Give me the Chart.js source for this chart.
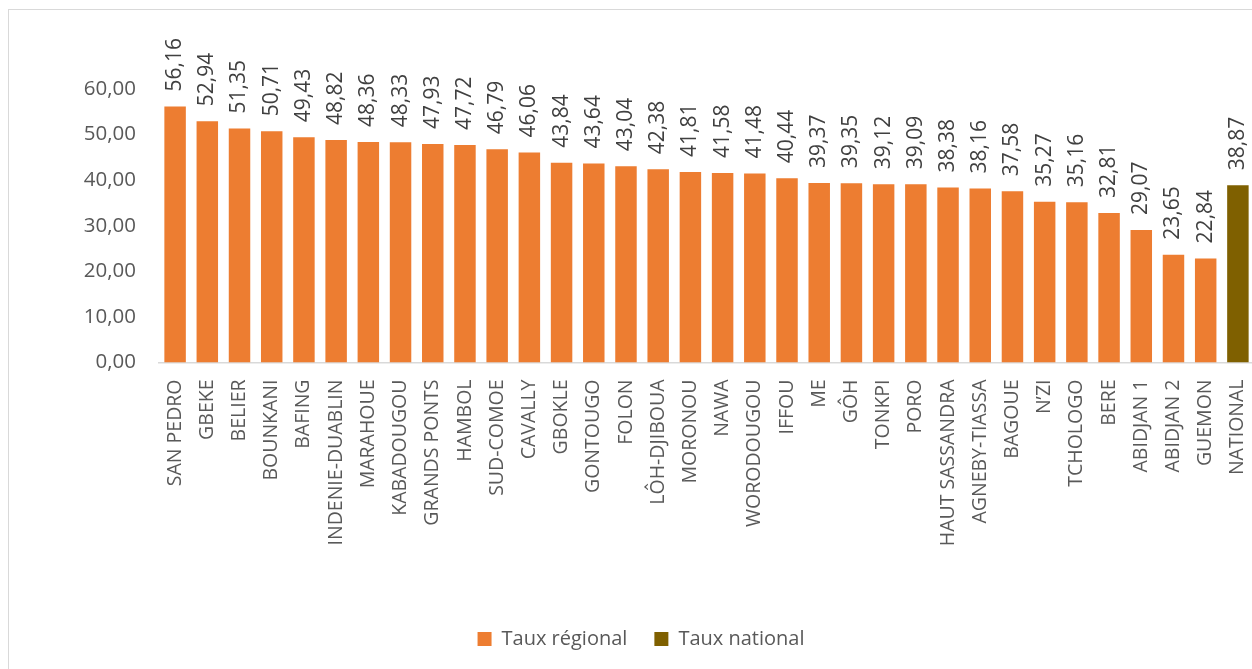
<!DOCTYPE html>
<html>
<head>
<meta charset="utf-8">
<script src="https://cdn.jsdelivr.net/npm/chart.js@4.4.1/dist/chart.umd.min.js"></script>
<style>
html,body{margin:0;padding:0;background:#fff;overflow:hidden;width:1252px;height:669px;}
#frame{position:absolute;left:8px;top:9px;width:1400px;height:800px;border-left:1.5px solid #d9d9d9;border-top:1.5px solid #d9d9d9;}
#wrap{position:absolute;left:0;top:0;width:1282px;height:669px;}
</style>
</head>
<body>
<div id="frame"></div>
<div id="wrap"><canvas id="c" width="1282" height="669"></canvas></div>
<script>
const categories = ["SAN PEDRO","GBEKE","BELIER","BOUNKANI","BAFING","INDENIE-DUABLIN","MARAHOUE","KABADOUGOU","GRANDS PONTS","HAMBOL","SUD-COMOE","CAVALLY","GBOKLE","GONTOUGO","FOLON","LÔH-DJIBOUA","MORONOU","NAWA","WORODOUGOU","IFFOU","ME","GÔH","TONKPI","PORO","HAUT SASSANDRA","AGNEBY-TIASSA","BAGOUE","N’ZI","TCHOLOGO","BERE","ABIDJAN 1","ABIDJAN 2","GUEMON","NATIONAL"];
const regionalValues = [56.16,52.94,51.35,50.71,49.43,48.82,48.36,48.33,47.93,47.72,46.79,46.06,43.84,43.64,43.04,42.38,41.81,41.58,41.48,40.44,39.37,39.35,39.12,39.09,38.38,38.16,37.58,35.27,35.16,32.81,29.07,23.65,22.84];
const nationalValue = 38.87;
const yTicks = [0,10,20,30,40,50,60];

const fmt = v => v.toFixed(2).replace('.', ',');
const FONT = "'Open Sans', sans-serif";

const regionalData = regionalValues.concat([null]);
const nationalData = regionalValues.map(() => null).concat([nationalValue]);

const labelPlugin = {
  id: 'valueLabels',
  afterDatasetsDraw(chart) {
    const ctx = chart.ctx;
    ctx.save();
    ctx.font = "21px " + FONT;
    ctx.fillStyle = '#404040';
    ctx.textAlign = 'left';
    ctx.textBaseline = 'middle';
    chart.data.datasets.forEach((ds, di) => {
      const meta = chart.getDatasetMeta(di);
      meta.data.forEach((bar, i) => {
        const v = ds.data[i];
        if (v === null || v === undefined) return;
        ctx.save();
        ctx.translate(bar.x, bar.y - 15);
        ctx.rotate(-Math.PI / 2);
        ctx.fillText(fmt(v), 0, 0);
        ctx.restore();
      });
    });
    ctx.restore();
  }
};

new Chart(document.getElementById('c'), {
  type: 'bar',
  data: {
    labels: categories,
    datasets: [
      { label: 'Taux régional', data: regionalData, backgroundColor: '#ED7D31', grouped: false, barPercentage: 0.667, categoryPercentage: 1 },
      { label: 'Taux national', data: nationalData, backgroundColor: '#7F6000', grouped: false, barPercentage: 0.667, categoryPercentage: 1 }
    ]
  },
  options: {
    responsive: false,
    animation: false,
    layout: { padding: { top: 89, left: 0, right: 0, bottom: 10 } },
    plugins: {
      tooltip: { enabled: false },
      legend: {
        position: 'bottom',
        labels: { font: { family: FONT, size: 20 }, color: '#595959', boxWidth: 14, boxHeight: 14, padding: 27 }
      }
    },
    scales: {
      x: {
        grid: { display: false, drawTicks: false },
        border: { display: true, color: '#d9d9d9', width: 1.5 },
        ticks: { minRotation: 90, maxRotation: 90, autoSkip: false, padding: 17, color: '#595959', font: { family: FONT, size: 19.5 } },
        afterFit(scale) { scale.height = 239.5; }
      },
      y: {
        min: 0, max: 60,
        afterBuildTicks(scale) { scale.ticks = yTicks.map(v => ({ value: v })); },
        grid: { display: false, drawTicks: false },
        border: { display: false },
        ticks: { padding: 23, color: '#595959', font: { family: FONT, size: 20.5 }, callback: v => fmt(v) },
        afterFit(scale) { scale.width = 159; }
      },
      yRight: {
        type: 'linear',
        position: 'right',
        display: true,
        grid: { display: false, drawTicks: false },
        border: { display: false },
        ticks: { display: false },
        afterFit(scale) { scale.width = 28; }
      }
    }
  },
  plugins: [labelPlugin]
});
</script>
</body>
</html>
